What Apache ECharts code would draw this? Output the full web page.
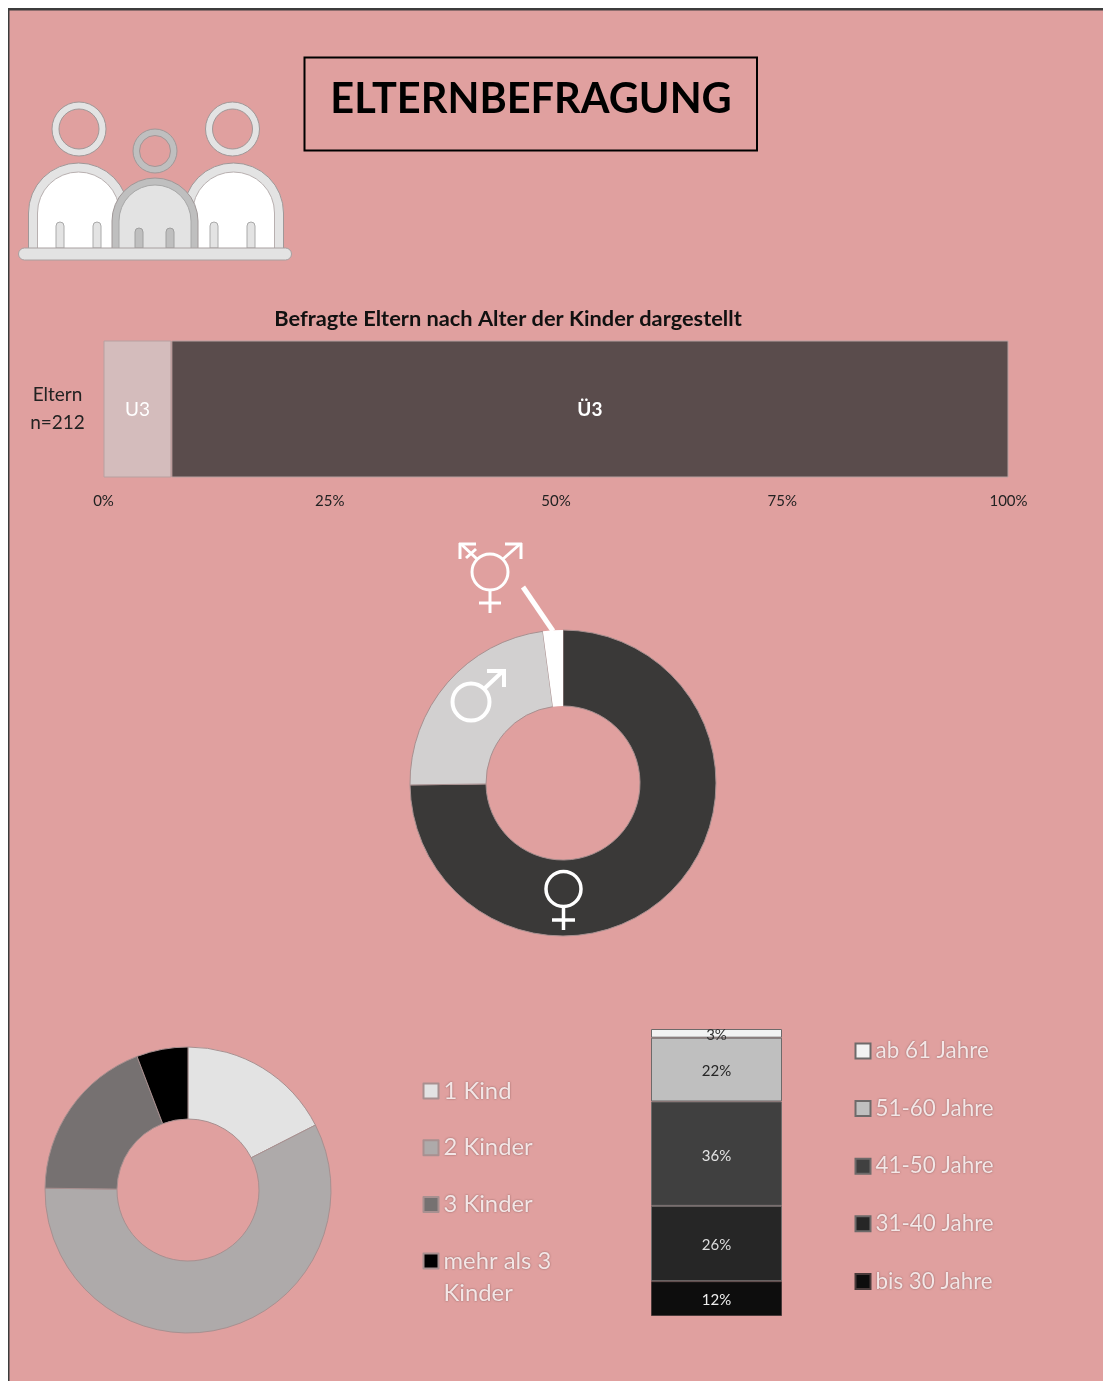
<!DOCTYPE html>
<html lang="de">
<head>
<meta charset="utf-8">
<title>Elternbefragung</title>
<script src="https://cdn.jsdelivr.net/npm/echarts@6/dist/echarts.min.js"></script>
<style>
html,body{margin:0;padding:0;background:#fff}
#chart{width:1103px;height:1381px}
</style>
</head>
<body>
<div id="chart"></div>
<script>
// Alter der Kinder (Anteil in %)
const kinderAlterKategorien = ['Eltern\nn=212'];
const kinderAlterReihen = ['U3', 'Ü3'];
const kinderAlterWerte = [7.5, 92.5];
const achsenTicks = [0, 25, 50, 75, 100];

// Geschlecht der Befragten (Anteil in %)
const geschlechtNamen = ['weiblich', 'männlich', 'divers'];
const geschlechtWerte = [74.8, 23.1, 2.1];

// Anzahl der Kinder (Anteil in %)
const kinderzahlNamen = ['1 Kind', '2 Kinder', '3 Kinder', 'mehr als 3 Kinder'];
const kinderzahlWerte = [17.5, 57.7, 19.0, 5.8];

// Alter der Eltern (Anteil in %), von unten nach oben gestapelt
const elternAlterNamen = ['bis 30 Jahre', '31-40 Jahre', '41-50 Jahre', '51-60 Jahre', 'ab 61 Jahre'];
const elternAlterWerte = [12, 26, 36, 22, 3];

const FONT = 'Lato, "Open Sans", sans-serif';
const PINK = '#e0a09f';
const geschlechtFarben = ['#3a3938', '#d2d0d0', '#ffffff'];
const kinderzahlFarben = ['#e3e3e3', '#aeaaaa', '#767171', '#000000'];
const elternAlterFarben = ['#0d0d0d', '#262626', '#404040', '#bfbfbf', '#f2f2f2'];
const elternLabelFarben = ['#eeeeee', '#dddddd', '#e4e4e4', '#262626', '#333333'];

// Kleine Helfer für die Symbole
const Z = 20;
const line = (x1, y1, x2, y2, color, w) => ({
  type: 'line', z: Z, silent: true,
  shape: {x1, y1, x2, y2},
  style: {stroke: color, lineWidth: w}
});
const circle = (cx, cy, r, w) => ({
  type: 'circle', z: Z, silent: true,
  shape: {cx, cy, r},
  style: {fill: 'transparent', stroke: '#fff', lineWidth: w}
});
const ring = (cx, cy, r, r0, fill, stroke) => ({
  type: 'ring', z: Z, silent: true,
  shape: {cx, cy, r, r0},
  style: {fill, stroke: stroke, lineWidth: 1}
});
const dome = (cx, top, r, bottom, fill, stroke) => ({
  type: 'rect', z: Z, silent: true,
  shape: {x: cx - r, y: top, width: 2 * r, height: bottom - top, r: [r, r, 0, 0]},
  style: {fill, stroke, lineWidth: 1}
});
const arm = (x, top, bottom, fill, stroke) => ({
  type: 'rect', z: Z, silent: true,
  shape: {x, y: top, width: 8, height: bottom - top, r: [4, 4, 0, 0]},
  style: {fill, stroke, lineWidth: 1}
});

// Eltern-Symbol links oben
const elternSymbol = [
  ring(79, 129, 27, 20, '#e3e3e3', '#a09898'),
  ring(232.5, 129, 27, 20, '#e3e3e3', '#a09898'),
  dome(78.5, 163, 50, 249, '#e3e3e3', '#a09898'),
  dome(78.5, 172, 41, 249, '#ffffff', '#b8b0b0'),
  dome(233.5, 163, 50, 249, '#e3e3e3', '#a09898'),
  dome(233.5, 172, 41, 249, '#ffffff', '#b8b0b0'),
  arm(56, 222, 248, '#e3e3e3', '#aaaaaa'),
  arm(93, 222, 248, '#e3e3e3', '#aaaaaa'),
  arm(210, 222, 248, '#e3e3e3', '#aaaaaa'),
  arm(247, 222, 248, '#e3e3e3', '#aaaaaa'),
  ring(155, 151, 22, 15.5, '#bfbfbf', '#a09898'),
  dome(155, 178, 43, 249, '#bfbfbf', '#a09898'),
  dome(155, 185, 36, 249, '#e3e3e3', '#a8a8a8'),
  arm(135, 228, 248, '#bfbfbf', '#a0a0a0'),
  arm(166, 228, 248, '#bfbfbf', '#a0a0a0'),
  {
    type: 'rect', z: Z, silent: true,
    shape: {x: 18.5, y: 248, width: 273, height: 12, r: 6},
    style: {fill: '#e3e3e3', stroke: '#a8a0a0', lineWidth: 1}
  }
];

// Geschlechtersymbole an den Ringsegmenten
const W = '#ffffff';
const geschlechtSymbole = [
  // divers
  circle(490, 572, 18, 3),
  line(490, 590, 490, 613, W, 3),
  line(479, 603, 501, 603, W, 3),
  line(503, 559, 520, 544, W, 3),
  line(505, 544, 522, 544, W, 3),
  line(521, 543, 521, 559, W, 3),
  line(477, 559, 461, 544, W, 3),
  line(459, 544, 476, 544, W, 3),
  line(460, 543, 460, 559, W, 3),
  line(466, 558, 476, 549, W, 3),
  line(523, 587, 553, 631, W, 5),
  // männlich
  circle(471, 702, 18.5, 4),
  line(485, 688, 503, 671, W, 4),
  line(487, 671, 505, 671, W, 4),
  line(504, 669, 504, 687, W, 4),
  // weiblich
  circle(563.5, 889, 17.5, 3.5),
  line(563.5, 907, 563.5, 930, W, 3.5),
  line(552, 920, 575, 920, W, 3.5)
];

const legendeText = {
  fontFamily: FONT,
  color: '#f3e6e6',
  textShadowColor: 'rgba(110,70,70,0.75)',
  textShadowBlur: 2
};

const chart = echarts.init(document.getElementById('chart'), null, {renderer: 'canvas'});

chart.setOption({
  backgroundColor: '#ffffff',
  animation: false,
  title: [
    {
      text: 'ELTERNBEFRAGUNG',
      left: 526, top: 95, textAlign: 'center', textVerticalAlign: 'middle',
      textStyle: {fontFamily: FONT, fontWeight: 'bold', fontSize: 41.5, color: '#000'}
    },
    {
      text: 'Befragte Eltern nach Alter der Kinder dargestellt',
      left: 503, top: 314, textAlign: 'center', textVerticalAlign: 'middle',
      textStyle: {fontFamily: FONT, fontWeight: 'bold', fontSize: 21.8, color: '#111'}
    }
  ],
  graphic: {
    elements: [
      // Hintergrundfläche mit dunkler Kante oben und links
      {type: 'rect', z: -10, silent: true, shape: {x: 8, y: 8, width: 1100, height: 1380},
        style: {fill: '#3c3c3c'}},
      {type: 'rect', z: -9, silent: true, shape: {x: 9.5, y: 10.5, width: 1100, height: 1380},
        style: {fill: PINK}},
      // Rahmen um die Überschrift
      {type: 'rect', z: Z, silent: true, shape: {x: 304.5, y: 57.5, width: 452.5, height: 93},
        style: {fill: 'transparent', stroke: '#000', lineWidth: 2}},
      // Zweite Zeile des letzten Legendeneintrags
      {type: 'text', z: Z, silent: true, x: 443.5, y: 1293, style: {
        text: 'Kinder', fontFamily: FONT, fontSize: 23.8, fill: legendeText.color,
        verticalAlign: 'middle', textShadowColor: legendeText.textShadowColor, textShadowBlur: 2
      }},
      ...elternSymbol,
      ...geschlechtSymbole
    ]
  },
  legend: [
    {
      left: 422.5, top: 1075, padding: 0, orient: 'vertical', icon: 'rect',
      itemWidth: 15, itemHeight: 15, itemGap: 24.7,
      selectedMode: false,
      textStyle: {...legendeText, fontSize: 23.8, lineHeight: 32},
      data: kinderzahlNamen,
      formatter: n => n === 'mehr als 3 Kinder' ? 'mehr als 3' : n
    },
    {
      left: 854.5, top: 1039, padding: 0, orient: 'vertical', icon: 'rect',
      itemWidth: 15, itemHeight: 15, itemGap: 33.6,
      selectedMode: false,
      textStyle: {...legendeText, fontSize: 22.4, lineHeight: 24},
      data: elternAlterNamen.slice().reverse()
    }
  ],
  grid: [
    {left: 103.5, top: 340.5, width: 905, height: 137},
    {left: 651, top: 1029, width: 131, height: 287}
  ],
  xAxis: [
    {
      gridIndex: 0, type: 'value', min: 0, max: 100, interval: 25,
      axisLine: {show: false}, axisTick: {show: false}, splitLine: {show: false},
      axisLabel: {
        formatter: v => achsenTicks.includes(v) ? v + '%' : '',
        fontFamily: FONT, fontSize: 15, color: '#222', margin: 16
      }
    },
    {gridIndex: 1, type: 'category', data: ['Alter'], show: false}
  ],
  yAxis: [
    {
      gridIndex: 0, type: 'category', data: kinderAlterKategorien,
      axisLine: {show: false}, axisTick: {show: false},
      axisLabel: {fontFamily: FONT, fontSize: 19, lineHeight: 28, color: '#222', margin: 46, align: 'center'}
    },
    {gridIndex: 1, type: 'value', min: 0, max: 99, show: false}
  ],
  series: [
    ...kinderAlterReihen.map((name, i) => ({
      type: 'bar', name, stack: 'kinderalter', xAxisIndex: 0, yAxisIndex: 0,
      barWidth: '100%',
      data: [kinderAlterWerte[i]],
      itemStyle: {color: ['#d4bcbc', '#5a4c4c'][i], borderColor: '#b8a0a0', borderWidth: 1},
      label: {
        show: true, position: 'inside', formatter: name, offset: [0, 1],
        fontFamily: FONT, fontSize: 19, fontWeight: i ? 'bold' : 'normal', color: '#fff'
      }
    })),
    {
      type: 'pie', name: 'Geschlecht', center: [563, 783], radius: [77, 153], startAngle: 90,
      silent: true, legendHoverLink: false,
      label: {show: false}, labelLine: {show: false},
      data: geschlechtNamen.map((name, i) => ({
        name, value: geschlechtWerte[i],
        itemStyle: {color: geschlechtFarben[i], borderColor: '#a89090', borderWidth: i === 2 ? 0 : 1}
      }))
    },
    {
      type: 'pie', name: 'Kinderzahl', center: [188, 1190], radius: [71, 143], startAngle: 90,
      silent: true,
      label: {show: false}, labelLine: {show: false},
      data: kinderzahlNamen.map((name, i) => ({
        name, value: kinderzahlWerte[i],
        itemStyle: {color: kinderzahlFarben[i], borderColor: '#a89090', borderWidth: 1}
      }))
    },
    ...elternAlterNamen.map((name, i) => ({
      type: 'bar', name, stack: 'elternalter', xAxisIndex: 1, yAxisIndex: 1,
      barWidth: '100%',
      data: [elternAlterWerte[i]],
      itemStyle: {color: elternAlterFarben[i], borderColor: i ? '#6e6a6a' : '#4a3a3a', borderWidth: 1},
      label: {
        show: true, position: 'inside', formatter: '{c}%',
        offset: [0, 2],
        fontFamily: FONT, fontSize: 15, color: elternLabelFarben[i]
      }
    }))
  ]
});
</script>
</body>
</html>
